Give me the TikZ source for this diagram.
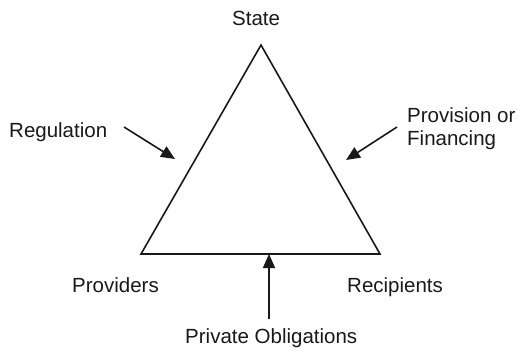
\documentclass[tikz,border=0pt]{standalone}
\usepackage{fontspec}
\setmainfont{Liberation Sans}
\usetikzlibrary{arrows.meta}
\begin{document}
\begin{tikzpicture}[x=1pt,y=-1pt,
  lbl/.style={inner sep=0pt,anchor=base west,font=\fontsize{20.5}{23}\selectfont,text=black!90},
  edge/.style={line width=1.6pt,line join=miter,black!90},
  arr/.style={line width=1.6pt,black!90,-{Triangle[length=14pt,width=12pt]}}]
\useasboundingbox (0,0) rectangle (521,351);
\coordinate (apex) at (261,45);
\coordinate (bl) at (141,254);
\coordinate (br) at (380,254);
\draw[edge] (apex) -- (bl) -- (br) -- cycle;
\node[lbl] (state) at (232,25) {State};
\node[lbl] (reg) at (9,137) {Regulation};
\node[lbl] (prov) at (407,122) {Provision or};
\node[lbl] (fin) at (407,145) {Financing};
\node[lbl] (provd) at (72,292) {Providers};
\node[lbl] (recip) at (347,292) {Recipients};
\node[lbl] (priv) at (185,343) {Private Obligations};
\coordinate (regs) at (124,127);
\coordinate (regt) at (175,159);
\coordinate (provs) at (397,127);
\coordinate (provt) at (346,160);
\coordinate (privs) at (269,319);
\coordinate (privt) at (269,254);
\draw[arr] (regs) -- (regt);
\draw[arr] (provs) -- (provt);
\draw[arr] (privs) -- (privt);
\end{tikzpicture}
\end{document}
